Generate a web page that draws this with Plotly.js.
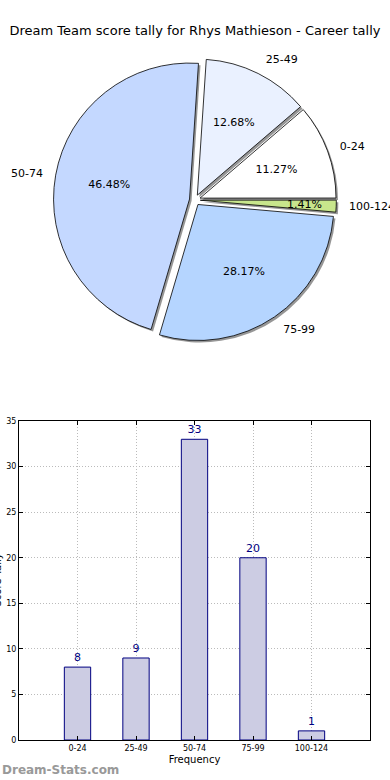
<!DOCTYPE html>
<html>
<head>
<meta charset="utf-8">
<script src="https://cdn.plot.ly/plotly-3.0.1.min.js"></script>
<style>html,body{margin:0;padding:0;background:#fff}#chart{width:390px;height:780px}</style>
</head>
<body>
<div id="chart"></div>
<script>
const categories = ["0-24", "25-49", "50-74", "75-99", "100-124"];
const pieLabels = ["0-24", "25-49", "50-74", "75-99", "100-124"];
const counts = [8, 9, 33, 20, 1];
const sliceColors = ["#ffffff", "#eaf1ff", "#c4d8ff", "#b5d5ff", "#c8e68c"];
const pullFrac = 0.04;

const font = "DejaVu Sans, sans-serif";
const rot = 49.4;
// pie geometry (pixels) -> paper domains
const plotL = 19, plotW = 351, plotH = 740;
const cx = 194.9, cy = 200, R = 136, pullPx = R * pullFrac;
function domainFor(radius, offX = 0, offY = 0) {
  const p = pullPx / radius;
  const half = radius * (1 + p);
  return {
    pull: p,
    domain: {
      x: [(cx + offX - half - plotL) / plotW, (cx + offX + half - plotL) / plotW],
      y: [1 - (cy + offY + half) / plotH, 1 - (cy + offY - half) / plotH]
    }
  };
}
const dMain = domainFor(R), dShadow = domainFor(R, 2, 2);
const dText = domainFor(R * 0.8), dLab = domainFor(R * 1.07);

const base = {type: "pie", values: counts, labels: pieLabels, sort: false,
  direction: "counterclockwise", rotation: rot, hoverinfo: "skip", showlegend: false};

const shadow = Object.assign({}, base, {
  pull: counts.map(() => dShadow.pull), domain: dShadow.domain,
  marker: {colors: counts.map(() => "rgba(80,80,80,0.6)"), line: {width: 0}},
  textinfo: "none"
});
const pieMain = Object.assign({}, base, {
  pull: counts.map(() => dMain.pull), domain: dMain.domain,
  marker: {colors: sliceColors, line: {color: "#000", width: 0.8}},
  textinfo: "none"
});
const piePct = Object.assign({}, base, {
  pull: counts.map(() => dText.pull), domain: dText.domain, hole: 0.5,
  marker: {colors: counts.map(() => "rgba(0,0,0,0)"), line: {width: 0}},
  texttemplate: "%{percent:.2%}", textposition: "inside",
  insidetextorientation: "horizontal",
  textfont: {family: font, size: 11, color: "#000"}
});
const pieLab = Object.assign({}, base, {
  pull: counts.map(() => dLab.pull), domain: dLab.domain,
  marker: {colors: counts.map(() => "rgba(0,0,0,0)"), line: {width: 0}},
  texttemplate: "%{label}", textposition: "outside",
  outsidetextfont: {family: font, size: 11, color: "#000"}
});
const bars = {
  type: "bar", x: categories, y: counts, width: 0.45,
  marker: {color: "#cccce3", line: {color: "#000080", width: 1}},
  text: counts.map(String), textposition: "outside", cliponaxis: false,
  textfont: {family: font, size: 11, color: "#000080"},
  hoverinfo: "skip", showlegend: false
};

const layout = {
  width: 390, height: 780,
  margin: {l: plotL, r: 20, t: 0, b: 40},
  paper_bgcolor: "#fff", plot_bgcolor: "#fff",
  font: {family: font, color: "#000"},
  title: {text: "Dream Team score tally for Rhys Mathieson - Career tally",
          font: {family: font, size: 13, color: "#000"},
          x: 0.5, xref: "container", y: 1 - 30 / 780, yref: "container", yanchor: "middle"},
  uniformtext: {minsize: 11, mode: "show"},
  xaxis: {
    domain: [0, 1], range: [-1, 5], type: "category",
    showline: true, mirror: "ticks", linecolor: "#000", linewidth: 1,
    ticks: "inside", ticklen: 4, tickcolor: "#000",
    tickfont: {family: font, size: 8, color: "#000"},
    showgrid: true, gridcolor: "#bbb", griddash: "1px,2px", gridwidth: 1,
    zeroline: false, fixedrange: true,
    title: {text: "Frequency", font: {family: font, size: 10, color: "#000"}, standoff: 4}
  },
  yaxis: {
    domain: [0, 0.431], range: [0, 35], dtick: 5,
    showline: true, mirror: "ticks", linecolor: "#000", linewidth: 1,
    ticks: "inside", ticklen: 4, tickcolor: "#000",
    tickfont: {family: font, size: 8, color: "#000"},
    showgrid: true, gridcolor: "#bbb", griddash: "1px,2px", gridwidth: 1,
    zeroline: false, fixedrange: true, automargin: false
  },
  annotations: [{
    text: "<b>Dream-Stats.com</b>", xref: "paper", yref: "paper",
    x: -19 / 351, y: -30 / 740, xanchor: "left", yanchor: "middle", showarrow: false,
    font: {family: font, size: 12, color: "#999"}
  }, {
    text: "Score Tally", xref: "paper", yref: "paper", textangle: -90,
    x: -21 / 351, y: 0.2155, xanchor: "center", yanchor: "middle", showarrow: false,
    font: {family: font, size: 10, color: "#000"}
  }]
};

Plotly.newPlot("chart", [shadow, pieMain, piePct, pieLab, bars], layout, {displayModeBar: false, staticPlot: true});
</script>
</body>
</html>
